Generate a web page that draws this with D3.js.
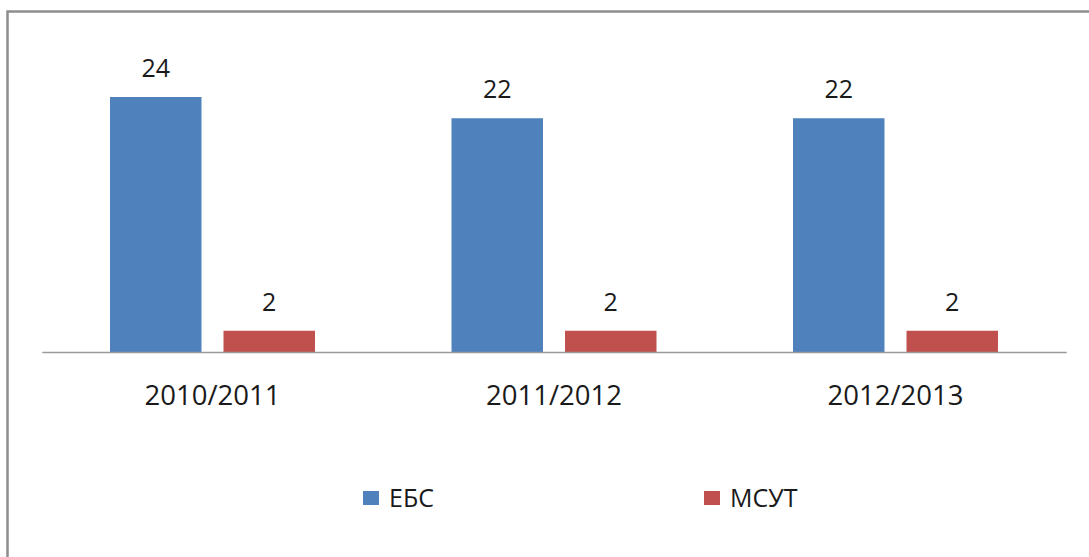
<!DOCTYPE html>
<html>
<head>
<meta charset="utf-8">
<script src="https://cdn.jsdelivr.net/npm/d3@7"></script>
<style>
    body { margin: 0; background: #ffffff; }
    svg { display: block; font-family: "Open Sans", sans-serif; }
</style>
</head>
<body>
<div id="chart"></div>
<script>
var years = ["2010/2011", "2011/2012", "2012/2013"]
var series_names = ["ЕБС", "МСУТ"]
var ebs_values = [24, 22, 22]
var msut_values = [2, 2, 2]
var series_colors = ["#4f81bd", "#c0504d"]

var width = 1089
var height = 557

var svg = d3.select("#chart")
    .append("svg")
    .attr("width", width)
    .attr("height", height)

// outer frame of the chart area (right and bottom edges fall off the picture)
svg.append("rect")
    .attr("x", 7.5)
    .attr("y", 11.5)
    .attr("width", width + 20)
    .attr("height", height + 20)
    .attr("fill", "none")
    .attr("stroke", "#8e8e8e")
    .attr("stroke-width", 2.5)

var rows = years.map(function (d, i) { return { "year": d, "values": [ebs_values[i], msut_values[i]] } })

var x0 = d3.scaleBand()
    .domain(years)
    .range([41.75, 1066.25])

var x1 = d3.scaleBand()
    .domain(series_names)
    .range([68.25, 273.25])
    .paddingInner(0.194)

var y = d3.scaleLinear()
    .domain([0, 24])
    .range([352, 97])

var groups = svg.append("g")
    .selectAll("g")
    .data(rows)
    .join("g")
    .attr("transform", function (d) { return `translate(${x0(d.year)}, 0)` })

groups.selectAll("rect")
    .data(function (d) { return d.values.map(function (v, i) { return { "name": series_names[i], "value": v, "color": series_colors[i] } }) })
    .join("rect")
    .attr("x", function (d) { return x1(d.name) })
    .attr("y", function (d) { return y(d.value) })
    .attr("width", x1.bandwidth())
    .attr("height", function (d) { return y(0) - y(d.value) })
    .attr("fill", function (d) { return d.color })

// data labels above the bars
groups.selectAll("text")
    .data(function (d) { return d.values.map(function (v, i) { return { "name": series_names[i], "value": v } }) })
    .join("text")
    .attr("x", function (d) { return x1(d.name) + x1.bandwidth() / 2 })
    .attr("y", function (d) { return y(d.value) - 20 })
    .attr("text-anchor", "middle")
    .attr("font-size", "25px")
    .attr("fill", "#1a1a1a")
    .text(function (d) { return d.value })

// category axis
var x_axis = svg.append("g")
    .attr("transform", `translate(0, ${y(0)})`)
    .call(d3.axisBottom(x0).tickSize(0).tickPadding(0))

x_axis.select(".domain")
    .attr("stroke", "#9a9a9a")
    .attr("stroke-width", 1.5)

x_axis.selectAll(".tick text")
    .attr("y", 53)
    .attr("dy", 0)
    .attr("font-family", "Open Sans, sans-serif")
    .attr("font-size", "27.5px")
    .attr("fill", "#1a1a1a")

// legend
var legend_x = [363, 704]
var legend = svg.append("g")
    .selectAll("g")
    .data(series_names)
    .join("g")
    .attr("transform", function (d, i) { return `translate(${legend_x[i]}, 498)` })

legend.append("rect")
    .attr("x", 0)
    .attr("y", -7)
    .attr("width", 16)
    .attr("height", 14)
    .attr("fill", function (d, i) { return series_colors[i] })

legend.append("text")
    .attr("x", 26)
    .attr("y", 9)
    .attr("font-size", "25px")
    .attr("fill", "#1a1a1a")
    .text(function (d) { return d })
</script>
</body>
</html>
